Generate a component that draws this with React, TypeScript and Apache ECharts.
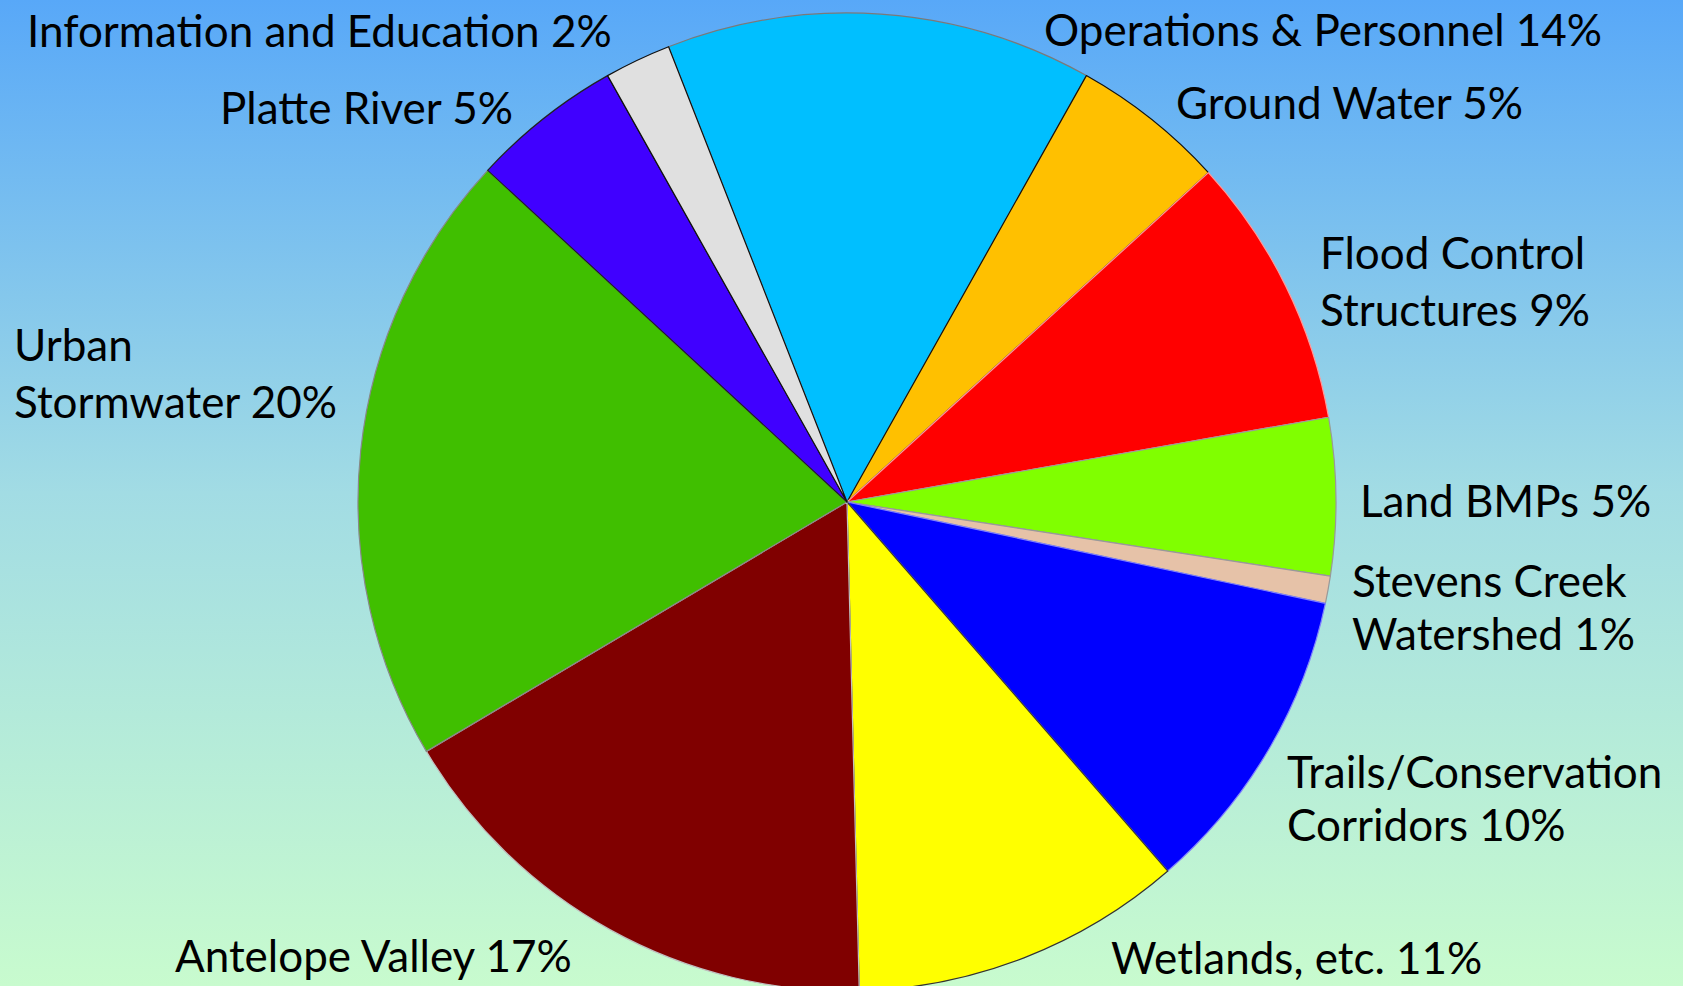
import React, { useEffect, useRef } from "react";
import * as echarts from "echarts";

const categories = [
  "Operations & Personnel",
  "Ground Water",
  "Flood Control\nStructures",
  "Land BMPs",
  "Stevens Creek\nWatershed",
  "Trails/Conservation\nCorridors",
  "Wetlands, etc.",
  "Antelope Valley",
  "Urban\nStormwater",
  "Platte River",
  "Information and Education",
];
const values = [14.1, 5.1, 9.0, 5.2, 0.9, 10.3, 11.0, 16.9, 20.4, 5.0, 2.2];
const colors = [
  "#00BFFF", "#FFC000", "#FF0000", "#80FF00", "#E6C2A8", "#0000FF",
  "#FFFF00", "#800000", "#40BF00", "#4000FF", "#E0E0E0",
];
const borderColors = [
  "#7a7a7a", "#111111", "#ff9a9a", "#999999", "#999999", "#8080ff",
  "#333333", "#c0c0c0", "#888888", "#222222", "#111111",
];
// label anchor positions (left x, vertical centre y) and line heights
const labelPos: [number, number, number][] = [
  [1044, 29, 50],
  [1176, 102, 50],
  [1320, 280, 57],
  [1360, 500, 50],
  [1352, 606, 53],
  [1287, 797, 53],
  [1111, 957, 50],
  [175, 955, 50],
  [14, 372, 57],
  [220, 107, 50],
  [27, 30, 50],
];

export default function App() {
  const ref = useRef<HTMLDivElement>(null);
  useEffect(() => {
    if (!ref.current) return;
    const chart = echarts.init(ref.current, null, { renderer: "svg" });
    chart.setOption({
      animation: false,
      backgroundColor: {
        type: "linear",
        x: 0,
        y: 0,
        x2: 0,
        y2: 1,
        colorStops: [
          { offset: 0, color: "#58A8F8" },
          { offset: 0.5, color: "#A2DCE4" },
          { offset: 1, color: "#C8FBCE" },
        ],
      },
      series: [
        {
          type: "pie",
          center: [847, 502],
          radius: 489,
          startAngle: 111.4,
          clockwise: true,
          avoidLabelOverlap: false,
          labelLine: { show: false },
          label: {
            show: true,
            position: "outside",
            color: "#000",
            fontFamily: "Lato",
            fontSize: 44,
            formatter: (p: any) => `${p.name} ${Math.round(p.value)}%`,
          },
          labelLayout: (p: any) => {
            const lp = labelPos[p.dataIndex];
            return { x: lp[0], y: lp[1], align: "left", verticalAlign: "middle", hideOverlap: false };
          },
          data: categories.map((name, i) => ({
            name,
            value: values[i],
            itemStyle: { color: colors[i], borderColor: borderColors[i], borderWidth: 1.2 },
            label: { lineHeight: labelPos[i][2] },
          })),
        },
      ],
    });
    return () => chart.dispose();
  }, []);
  return (
    <div
      ref={ref}
      style={{ position: "fixed", left: 0, top: 0, width: 1683, height: 986 }}
    />
  );
}
